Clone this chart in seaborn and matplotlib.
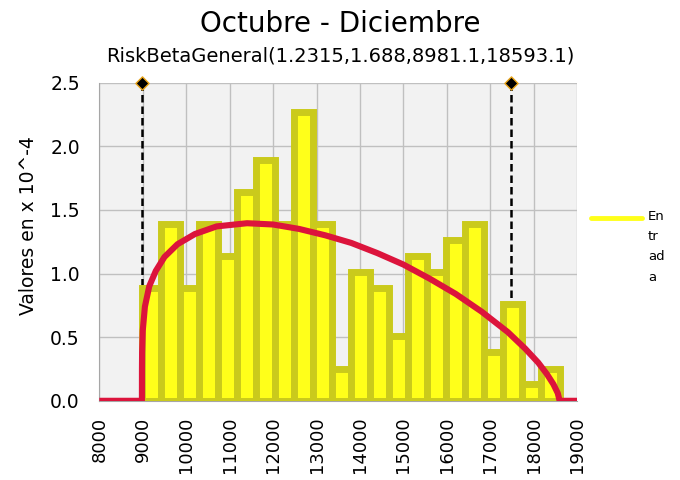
import numpy as np
import pandas as pd
import matplotlib.pyplot as plt
import seaborn as sns
from matplotlib.lines import Line2D

# histogram of the simulated input, heights in x 10^-4
bin_start = 8981.1
bin_width = 436.9
bar_heights = [0.89, 1.39, 0.89, 1.39, 1.14, 1.64, 1.89, 1.39, 2.27, 1.39, 0.25,
               1.01, 0.89, 0.51, 1.14, 1.01, 1.26, 1.39, 0.38, 0.76, 0.13, 0.25]

# fitted RiskBetaGeneral density
curve_x = [8000, 8981, 8982, 8985, 9000, 9050, 9150, 9300, 9500, 9800, 10200,
           10700, 11400, 12000, 12600, 13200, 13800, 14400, 15000, 15600, 16200,
           16800, 17400, 17800, 18100, 18300, 18450, 18550, 18593, 19000]
curve_y = [0, 0, 0.25, 0.38, 0.55, 0.74, 0.90, 1.02, 1.13, 1.23, 1.31,
           1.37, 1.395, 1.385, 1.35, 1.30, 1.24, 1.16, 1.07, 0.96, 0.84,
           0.70, 0.54, 0.41, 0.30, 0.21, 0.13, 0.06, 0, 0]

# delimiter markers
marker_x = [8981.1, 17478]

sns.set_style('white')
plt.rcParams['font.family'] = ['DejaVu Sans']
plt.rcParams['text.color'] = 'black'
plt.rcParams['axes.labelcolor'] = 'black'

fig = plt.figure(figsize=(6.8, 4.8), dpi=100)
ax = fig.add_axes([0.146, 0.165, 0.703, 0.663])
ax.set_facecolor('#F2F2F2')

n = len(bar_heights)
hist = pd.DataFrame({'valor': bin_start + bin_width * (np.arange(n) + 0.5),
                     'altura': bar_heights})

ax.vlines(marker_x, 0, 2.5, colors='black', linestyles=(0, (3, 1.6)), lw=1.8, zorder=2)

sns.histplot(data=hist, x='valor', weights='altura', binwidth=bin_width,
             binrange=(bin_start, bin_start + n * bin_width), ax=ax,
             color='#FFFF1A', edgecolor='#CACA1C', linewidth=5, alpha=1, zorder=3)

sns.lineplot(x=curve_x, y=curve_y, ax=ax, color='#DC143C', linewidth=4.4,
             solid_capstyle='butt', zorder=4)

ax.scatter(marker_x, [2.5, 2.5], marker='D', s=45, color='black',
           edgecolor='#E8A317', linewidth=1, clip_on=False, zorder=6)

ax.set_xlim(8000, 19000)
ax.set_ylim(0, 2.5)
ax.set_xticks(np.arange(8000, 19001, 1000))
ax.set_yticks(np.arange(0, 2.51, 0.5))
ax.set_yticklabels(['0.0', '0.5', '1.0', '1.5', '2.0', '2.5'])
ax.tick_params(axis='x', labelrotation=90, labelsize=13, length=5, pad=6.5,
               color='#A6A6A6', labelcolor='black')
ax.tick_params(axis='y', labelsize=13.5, length=5, pad=9,
               color='#A6A6A6', labelcolor='black')
ax.grid(True, color='#C0C0C0', lw=1)
ax.set_axisbelow(True)
for s in ['top', 'right']:
    ax.spines[s].set_visible(False)
for s in ['left', 'bottom']:
    ax.spines[s].set_color('#A6A6A6')

ax.set_xlabel('')
ax.set_ylabel('Valores en x 10^-4', fontsize=13.5)
ax.yaxis.set_label_coords(-0.128, 0.55)

fig.text(0.5, 0.933, 'Octubre - Diciembre', ha='center', va='baseline', fontsize=20)
fig.text(0.5, 0.871, 'RiskBetaGeneral(1.2315,1.688,8981.1,18593.1)', ha='center',
         va='baseline', fontsize=14)

# legend drawn by hand: the long label wraps in the narrow side panel
fig.add_artist(Line2D([591 / 680, 642 / 680], [1 - 218 / 480] * 2, color='#FFFF1A',
                      lw=3.5, solid_capstyle='round'))
fig.text(648 / 680, 1 - 210 / 480, 'En\ntr\nad\na', ha='left', va='top',
         fontsize=9.5, linespacing=1.72)

plt.savefig('out.png', dpi=100)
plt.close()
